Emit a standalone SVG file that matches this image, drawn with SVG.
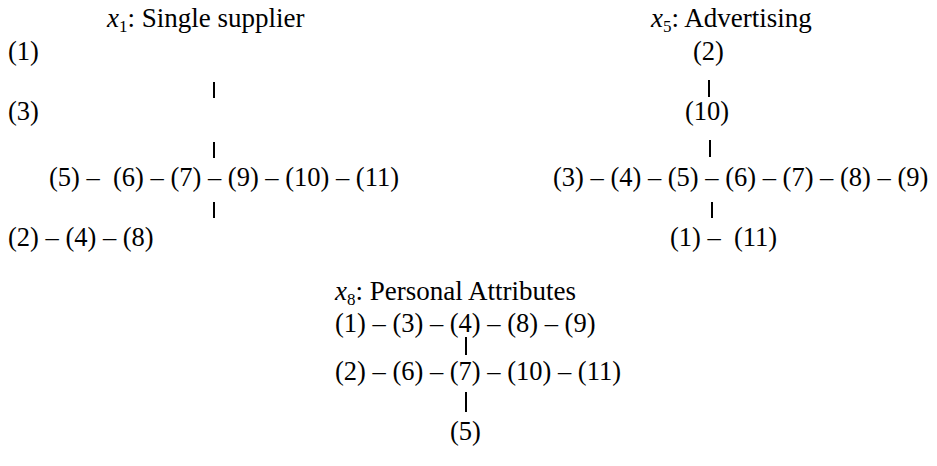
<svg xmlns="http://www.w3.org/2000/svg" width="937" height="466" viewBox="0 0 937 466">
<style>
text{font-family:"Liberation Serif","Times New Roman",serif;font-size:26.5px;fill:#000}
.title{font-size:27px}
.sub{font-size:17px}
.it{font-style:italic}
.bar{stroke:#000;stroke-width:2}
</style>
<rect width="937" height="466" fill="#fff"/>
<g id="x1">
<text class="title" x="107" y="27"><tspan class="it">x</tspan><tspan class="sub" dy="5">1</tspan><tspan dy="-5">: Single supplier</tspan></text>
<text x="8" y="60">(1)</text>
<text x="8" y="120">(3)</text>
<text x="49" y="186">(5) –&#160; (6) – (7) – (9) – (10) – (11)</text>
<text x="8" y="246">(2) – (4) – (8)</text>
</g>
<g id="x5">
<text class="title" x="651" y="27"><tspan class="it">x</tspan><tspan class="sub" dy="5">5</tspan><tspan dy="-5">: Advertising</tspan></text>
<text x="693" y="60">(2)</text>
<text x="685" y="120">(10)</text>
<text x="553" y="186">(3) – (4) – (5) – (6) – (7) – (8) – (9)</text>
<text x="670" y="246">(1) –&#160; (11)</text>
</g>
<g id="x8">
<text class="title" x="335" y="300"><tspan class="it">x</tspan><tspan class="sub" dy="5">8</tspan><tspan dy="-5">: Personal Attributes</tspan></text>
<text x="335" y="332">(1) – (3) – (4) – (8) – (9)</text>
<text x="335" y="380">(2) – (6) – (7) – (10) – (11)</text>
<text x="450" y="440">(5)</text>
</g>
<g id="connectors">
<line class="bar" x1="214" y1="82" x2="214" y2="98"/>
<line class="bar" x1="214" y1="142" x2="214" y2="158"/>
<line class="bar" x1="214" y1="202" x2="214" y2="218"/>
<line class="bar" x1="709" y1="80" x2="709" y2="97"/>
<line class="bar" x1="710" y1="140" x2="710" y2="157"/>
<line class="bar" x1="712" y1="202" x2="712" y2="218"/>
<line class="bar" x1="466" y1="337" x2="466" y2="355"/>
<line class="bar" x1="466" y1="392" x2="466" y2="412"/>
</g>
</svg>
